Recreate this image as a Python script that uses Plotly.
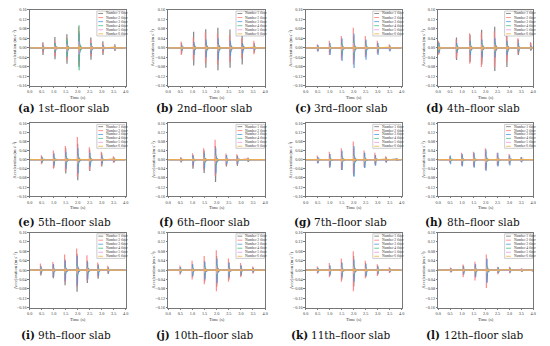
import plotly.graph_objects as go

W, H = 550, 346

SERIES = ["Number 1 floor", "Number 2 floor", "Number 3 floor",
          "Number 4 floor", "Number 5 floor", "Number 6 floor"]
COLORS = ["#707070", "#ff7a7a", "#4a98e6", "#45c08a", "#e596f0", "#f0b040"]

LETTERS = ["a", "b", "c", "d", "e", "f", "g", "h", "i", "j", "k", "l"]
CAPTIONS = ["1st–floor slab", "2nd–floor slab", "3rd–floor slab", "4th–floor slab",
            "5th–floor slab", "6th–floor slab", "7th–floor slab", "8th–floor slab",
            "9th–floor slab", "10th–floor slab", "11th–floor slab", "12th–floor slab"]

X_TICKS = [0.0, 0.5, 1.0, 1.5, 2.0, 2.5, 3.0, 3.5, 4.0]
Y_TICKS = [-0.16, -0.12, -0.08, -0.04, 0.0, 0.04, 0.08, 0.12, 0.16]

# ---- data: impact times, positive / negative peaks (series 1-3), symmetric peaks (series 4-6)
T_A = [0.55, 1.05, 1.55, 2.05, 2.55, 3.05, 3.55]
UP_A = [[0.024, 0.046, 0.057, 0.070, 0.044, 0.028, 0.015],
        [0.018, 0.030, 0.045, 0.090, 0.035, 0.020, 0.010],
        [0.010, 0.020, 0.030, 0.060, 0.020, 0.012, 0.006]]
DN_A = [[-0.030, -0.048, -0.067, -0.080, -0.050, -0.030, -0.013],
        [-0.020, -0.035, -0.050, -0.070, -0.035, -0.022, -0.010],
        [-0.012, -0.020, -0.035, -0.060, -0.025, -0.012, -0.006]]
AMP_A = [[0.008, 0.018, 0.040, 0.095, 0.018, 0.010, 0.005],
         [0.006, 0.010, 0.015, 0.028, 0.012, 0.008, 0.004],
         [0.004, 0.006, 0.008, 0.012, 0.006, 0.004, 0.003]]

T_B = [0.55, 1.05, 1.55, 2.05, 2.55, 3.05, 3.55]
UP_B = [[0.020, 0.068, 0.078, 0.085, 0.077, 0.065, 0.020],
        [0.027, 0.045, 0.065, 0.060, 0.055, 0.040, 0.030],
        [0.012, 0.025, 0.035, 0.040, 0.030, 0.020, 0.010]]
DN_B = [[-0.025, -0.074, -0.084, -0.095, -0.084, -0.070, -0.020],
        [-0.030, -0.050, -0.065, -0.070, -0.060, -0.045, -0.027],
        [-0.012, -0.030, -0.040, -0.050, -0.035, -0.025, -0.010]]
AMP_B = [[0.008, 0.012, 0.015, 0.018, 0.012, 0.010, 0.006],
         [0.006, 0.010, 0.012, 0.015, 0.010, 0.008, 0.005],
         [0.004, 0.006, 0.008, 0.010, 0.006, 0.005, 0.003]]

T_C = [0.5, 1.0, 1.5, 2.0, 2.5, 3.0, 3.5]
UP_C = [[0.010, 0.020, 0.035, 0.050, 0.030, 0.020, 0.010],
        [0.015, 0.030, 0.050, 0.085, 0.050, 0.030, 0.015],
        [0.012, 0.020, 0.040, 0.060, 0.035, 0.020, 0.010]]
DN_C = [[-0.010, -0.020, -0.035, -0.050, -0.030, -0.020, -0.010],
        [-0.015, -0.030, -0.050, -0.070, -0.040, -0.025, -0.012],
        [-0.015, -0.030, -0.055, -0.085, -0.050, -0.030, -0.015]]
AMP_C = [[0.006, 0.010, 0.020, 0.030, 0.015, 0.010, 0.005],
         [0.005, 0.008, 0.012, 0.020, 0.010, 0.007, 0.004],
         [0.003, 0.005, 0.008, 0.012, 0.006, 0.004, 0.003]]

T_D = [0.02, 0.77, 1.34, 1.83, 2.38, 2.89, 3.37, 3.90]
UP_D = [[0.025, 0.044, 0.055, 0.076, 0.089, 0.060, 0.035, 0.020],
        [0.030, 0.035, 0.062, 0.065, 0.070, 0.070, 0.040, 0.025],
        [0.020, 0.020, 0.030, 0.035, 0.040, 0.030, 0.020, 0.010]]
DN_D = [[-0.025, -0.051, -0.060, -0.070, -0.098, -0.081, -0.030, -0.012],
        [-0.030, -0.045, -0.067, -0.081, -0.080, -0.060, -0.025, -0.010],
        [-0.020, -0.020, -0.030, -0.040, -0.040, -0.030, -0.015, -0.008]]
AMP_D = [[0.015, 0.012, 0.018, 0.020, 0.022, 0.018, 0.010, 0.006],
         [0.010, 0.008, 0.012, 0.014, 0.015, 0.012, 0.008, 0.004],
         [0.008, 0.005, 0.008, 0.010, 0.010, 0.008, 0.005, 0.003]]

T_E = [0.5, 1.0, 1.5, 2.0, 2.5, 3.0, 3.5]
UP_E = [[0.015, 0.030, 0.050, 0.070, 0.045, 0.030, 0.012],
        [0.020, 0.040, 0.060, 0.100, 0.055, 0.035, 0.015],
        [0.012, 0.025, 0.035, 0.050, 0.030, 0.020, 0.008]]
DN_E = [[-0.015, -0.035, -0.060, -0.090, -0.050, -0.030, -0.012],
        [-0.020, -0.040, -0.050, -0.075, -0.045, -0.025, -0.012],
        [-0.012, -0.025, -0.040, -0.060, -0.030, -0.020, -0.008]]
AMP_E = [[0.008, 0.012, 0.018, 0.025, 0.015, 0.010, 0.005],
         [0.006, 0.009, 0.012, 0.018, 0.010, 0.007, 0.004],
         [0.004, 0.005, 0.007, 0.010, 0.006, 0.004, 0.003]]

T_F = [0.53, 1.02, 1.48, 1.95, 2.40, 2.85, 3.30]
UP_F = [[0.008, 0.020, 0.040, 0.060, 0.020, 0.018, 0.008],
        [0.012, 0.028, 0.050, 0.088, 0.027, 0.024, 0.010],
        [0.006, 0.020, 0.030, 0.050, 0.020, 0.015, 0.006]]
DN_F = [[-0.012, -0.040, -0.058, -0.098, -0.030, -0.027, -0.010],
        [-0.010, -0.030, -0.045, -0.070, -0.025, -0.020, -0.008],
        [-0.008, -0.025, -0.040, -0.060, -0.020, -0.018, -0.006]]
AMP_F = [[0.005, 0.010, 0.015, 0.025, 0.010, 0.008, 0.004],
         [0.004, 0.008, 0.012, 0.018, 0.008, 0.006, 0.003],
         [0.003, 0.005, 0.008, 0.010, 0.005, 0.004, 0.002]]

T_G = [0.5, 1.0, 1.5, 2.0, 2.45, 2.9, 3.35, 3.8]
UP_G = [[0.012, 0.025, 0.035, 0.050, 0.030, 0.020, 0.010, 0.005],
        [0.018, 0.035, 0.050, 0.080, 0.040, 0.030, 0.015, 0.006],
        [0.012, 0.025, 0.040, 0.060, 0.030, 0.020, 0.010, 0.004]]
DN_G = [[-0.015, -0.035, -0.045, -0.070, -0.035, -0.025, -0.012, -0.005],
        [-0.015, -0.030, -0.040, -0.060, -0.030, -0.020, -0.010, -0.005],
        [-0.015, -0.030, -0.045, -0.075, -0.035, -0.025, -0.012, -0.004]]
AMP_G = [[0.006, 0.010, 0.015, 0.022, 0.012, 0.008, 0.005, 0.003],
         [0.005, 0.008, 0.012, 0.016, 0.010, 0.006, 0.004, 0.002],
         [0.003, 0.005, 0.007, 0.010, 0.006, 0.004, 0.003, 0.002]]

T_H = [0.5, 1.0, 1.5, 2.0, 2.5, 3.0, 3.5]
UP_H = [[0.010, 0.020, 0.025, 0.035, 0.020, 0.015, 0.008],
        [0.015, 0.030, 0.035, 0.050, 0.030, 0.025, 0.012],
        [0.018, 0.025, 0.030, 0.045, 0.030, 0.020, 0.012]]
DN_H = [[-0.012, -0.025, -0.030, -0.040, -0.025, -0.018, -0.008],
        [-0.012, -0.025, -0.030, -0.045, -0.025, -0.020, -0.010],
        [-0.020, -0.030, -0.035, -0.050, -0.030, -0.025, -0.012]]
AMP_H = [[0.006, 0.010, 0.012, 0.018, 0.010, 0.008, 0.005],
         [0.005, 0.008, 0.010, 0.014, 0.008, 0.006, 0.004],
         [0.003, 0.005, 0.006, 0.008, 0.005, 0.004, 0.002]]

T_I = [0.46, 0.98, 1.47, 1.97, 2.40, 2.85, 3.27]
UP_I = [[0.018, 0.025, 0.045, 0.070, 0.040, 0.025, 0.012],
        [0.028, 0.035, 0.067, 0.092, 0.063, 0.032, 0.018],
        [0.015, 0.025, 0.040, 0.060, 0.035, 0.020, 0.010]]
DN_I = [[-0.023, -0.035, -0.065, -0.093, -0.055, -0.037, -0.017],
        [-0.018, -0.030, -0.050, -0.070, -0.045, -0.030, -0.012],
        [-0.015, -0.028, -0.045, -0.065, -0.040, -0.025, -0.010]]
AMP_I = [[0.008, 0.012, 0.018, 0.025, 0.015, 0.010, 0.005],
         [0.006, 0.009, 0.012, 0.018, 0.010, 0.007, 0.004],
         [0.004, 0.005, 0.007, 0.010, 0.006, 0.004, 0.003]]

T_J = [0.5, 1.0, 1.5, 2.0, 2.5, 3.0, 3.5]
UP_J = [[0.012, 0.025, 0.040, 0.060, 0.035, 0.020, 0.010],
        [0.020, 0.040, 0.060, 0.085, 0.050, 0.030, 0.015],
        [0.012, 0.025, 0.035, 0.050, 0.030, 0.020, 0.010]]
DN_J = [[-0.015, -0.030, -0.050, -0.070, -0.040, -0.025, -0.010],
        [-0.020, -0.040, -0.060, -0.090, -0.050, -0.030, -0.015],
        [-0.012, -0.025, -0.040, -0.055, -0.030, -0.020, -0.010]]
AMP_J = [[0.008, 0.012, 0.018, 0.025, 0.015, 0.010, 0.005],
         [0.006, 0.009, 0.012, 0.018, 0.010, 0.007, 0.004],
         [0.004, 0.005, 0.007, 0.010, 0.006, 0.004, 0.003]]

T_K = [0.5, 1.0, 1.5, 2.0, 2.5, 3.0, 3.5]
UP_K = [[0.010, 0.020, 0.035, 0.060, 0.030, 0.020, 0.010],
        [0.015, 0.030, 0.050, 0.080, 0.040, 0.025, 0.012],
        [0.010, 0.020, 0.030, 0.045, 0.025, 0.015, 0.008]]
DN_K = [[-0.012, -0.025, -0.040, -0.070, -0.030, -0.020, -0.010],
        [-0.015, -0.030, -0.050, -0.090, -0.035, -0.025, -0.012],
        [-0.010, -0.020, -0.030, -0.050, -0.025, -0.015, -0.008]]
AMP_K = [[0.006, 0.010, 0.015, 0.022, 0.012, 0.008, 0.005],
         [0.005, 0.008, 0.012, 0.016, 0.010, 0.006, 0.004],
         [0.003, 0.005, 0.007, 0.010, 0.006, 0.004, 0.002]]

T_L = [0.53, 1.06, 1.56, 2.04, 2.52, 3.02, 3.52, 3.96]
UP_L = [[0.008, 0.018, 0.025, 0.045, 0.010, 0.010, 0.006, 0.004],
        [0.011, 0.024, 0.036, 0.067, 0.014, 0.014, 0.008, 0.005],
        [0.008, 0.015, 0.025, 0.050, 0.012, 0.010, 0.006, 0.004]]
DN_L = [[-0.008, -0.020, -0.030, -0.050, -0.012, -0.010, -0.006, -0.004],
        [-0.010, -0.030, -0.044, -0.077, -0.018, -0.014, -0.008, -0.005],
        [-0.008, -0.018, -0.030, -0.055, -0.012, -0.010, -0.006, -0.004]]
AMP_L = [[0.005, 0.008, 0.012, 0.018, 0.008, 0.006, 0.004, 0.002],
         [0.004, 0.006, 0.009, 0.014, 0.006, 0.005, 0.003, 0.002],
         [0.003, 0.004, 0.006, 0.008, 0.004, 0.003, 0.002, 0.002]]

PANELS = [(T_A, UP_A, DN_A, AMP_A), (T_B, UP_B, DN_B, AMP_B), (T_C, UP_C, DN_C, AMP_C),
          (T_D, UP_D, DN_D, AMP_D), (T_E, UP_E, DN_E, AMP_E), (T_F, UP_F, DN_F, AMP_F),
          (T_G, UP_G, DN_G, AMP_G), (T_H, UP_H, DN_H, AMP_H), (T_I, UP_I, DN_I, AMP_I),
          (T_J, UP_J, DN_J, AMP_J), (T_K, UP_K, DN_K, AMP_K), (T_L, UP_L, DN_L, AMP_L)]

# ---- style: decay shape of each impact response (time offset, share of peak)
TAIL_DX = [0.0, 0.004, 0.010, 0.016, 0.024, 0.034, 0.046, 0.060, 0.078, 0.100, 0.13]
TAIL_K = [1.0, 1.0, 0.45, 0.40, 0.25, 0.22, 0.14, 0.12, 0.07, 0.05, 0.0]
SERIES_LAG = [0.0, -0.014, 0.014, 0.007, -0.007, 0.0]

# ---- layout in pixels
COL_X = [(27, 124), (167, 265), (306, 403), (440, 536)]
ROW_Y = [(7, 84), (122, 196), (233, 309)]
CAP_Y = [107, 222, 337]

FONT = "Liberation Serif"
CAP_FONT = "DejaVu Serif"


def px_x(p):
    return p / W


def px_y(p):
    return 1 - p / H


fig = go.Figure()
annotations = []
shapes = []


def impact_path(times, up, dn, lag):
    xs, ys = [0.0], [0.0]
    for t, u, d in zip(times, up, dn):
        t = t + lag
        xs.append(t)
        ys.append(0.0)
        for i, (dx, k) in enumerate(zip(TAIL_DX, TAIL_K)):
            xs.append(t + dx)
            ys.append(k * (u if i % 2 == 0 else d))
    xs.append(4.0)
    ys.append(0.0)
    return xs, ys


for p, (T, UP, DN, AMP) in enumerate(PANELS):
    r, c = divmod(p, 4)
    n = "" if p == 0 else str(p + 1)
    xa, ya = "x" + n, "y" + n
    x0, x1 = COL_X[c]
    y0, y1 = ROW_Y[r]

    for s in range(6):
        if s < 3:
            up, dn = UP[s], DN[s]
        else:
            up = AMP[s - 3]
            dn = [-v for v in AMP[s - 3]]
        xs, ys = impact_path(T, up, dn, SERIES_LAG[s])
        fig.add_trace(go.Scatter(x=xs, y=ys, mode="lines", xaxis=xa, yaxis=ya,
                                 line=dict(color=COLORS[s], width=1.2),
                                 opacity=0.85, name=SERIES[s], showlegend=False,
                                 hoverinfo="skip"))

    common = dict(showgrid=False, zeroline=False, showline=True, mirror=True,
                  linecolor="#777777", linewidth=0.6, ticks="outside", ticklen=1.5,
                  tickwidth=0.5, tickcolor="#777777",
                  tickfont=dict(family=FONT, size=4.2, color="#333333"))
    fig.layout["xaxis" + n] = dict(domain=[px_x(x0), px_x(x1)], anchor=ya, range=[0, 4],
                                   tickvals=X_TICKS, ticktext=[f"{v:.1f}" for v in X_TICKS],
                                   **common)
    fig.layout["yaxis" + n] = dict(domain=[px_y(y1), px_y(y0)], anchor=xa, range=[-0.16, 0.16],
                                   tickvals=Y_TICKS,
                                   ticktext=[f"{v:.2f}".replace("-", "−") for v in Y_TICKS],
                                   **common)

    # axis titles
    annotations.append(dict(xref="paper", yref="paper", x=px_x(x0 - 15), y=px_y((y0 + y1) / 2),
                            text="Acceleration (m s⁻²)", textangle=-90,
                            showarrow=False, font=dict(family=FONT, size=4.5, color="#333333"),
                            xanchor="center", yanchor="middle"))
    annotations.append(dict(xref="paper", yref="paper", x=px_x((x0 + x1) / 2), y=px_y(y1 + 12),
                            text="Time (s)", showarrow=False,
                            font=dict(family=FONT, size=4.5, color="#333333"),
                            xanchor="center", yanchor="middle"))
    # caption: bold label + plain text
    cx = x0 + 6 - (3 if len(CAPTIONS[p]) > 14 else 0)
    annotations.append(dict(xref="paper", yref="paper", x=px_x(cx), y=px_y(CAP_Y[r]),
                            text=f"({LETTERS[p]})", showarrow=False, borderpad=0,
                            font=dict(family=CAP_FONT, size=10.5, color="#111111", weight="bold"),
                            xanchor="right", yanchor="middle"))
    annotations.append(dict(xref="paper", yref="paper", x=px_x(cx + 1.5), y=px_y(CAP_Y[r]),
                            text=CAPTIONS[p], showarrow=False, borderpad=0,
                            font=dict(family=CAP_FONT, size=10.5, color="#111111"),
                            xanchor="left", yanchor="middle"))

    # in-plot legend
    shapes.append(dict(type="rect", xref=xa, yref=ya, x0=2.8, x1=3.97, y0=0.05, y1=0.155,
                       fillcolor="white", line=dict(color="#999999", width=0.5), layer="above"))
    for s in range(6):
        yy = 0.145 - s * 0.0172
        shapes.append(dict(type="line", xref=xa, yref=ya, x0=2.86, x1=3.06, y0=yy, y1=yy,
                           line=dict(color=COLORS[s], width=0.8), layer="above"))
        annotations.append(dict(xref=xa, yref=ya, x=3.1, y=yy, text=SERIES[s], showarrow=False,
                                xanchor="left", yanchor="middle",
                                font=dict(family=FONT, size=3.5, color="#333333")))

fig.update_layout(width=W, height=H, margin=dict(l=0, r=0, t=0, b=0),
                  paper_bgcolor="white", plot_bgcolor="white",
                  annotations=annotations, shapes=shapes, showlegend=False)

fig.write_html("out.html", config={"displayModeBar": False},
               post_script="document.body.style.margin='0px';document.body.style.padding='0px';")
